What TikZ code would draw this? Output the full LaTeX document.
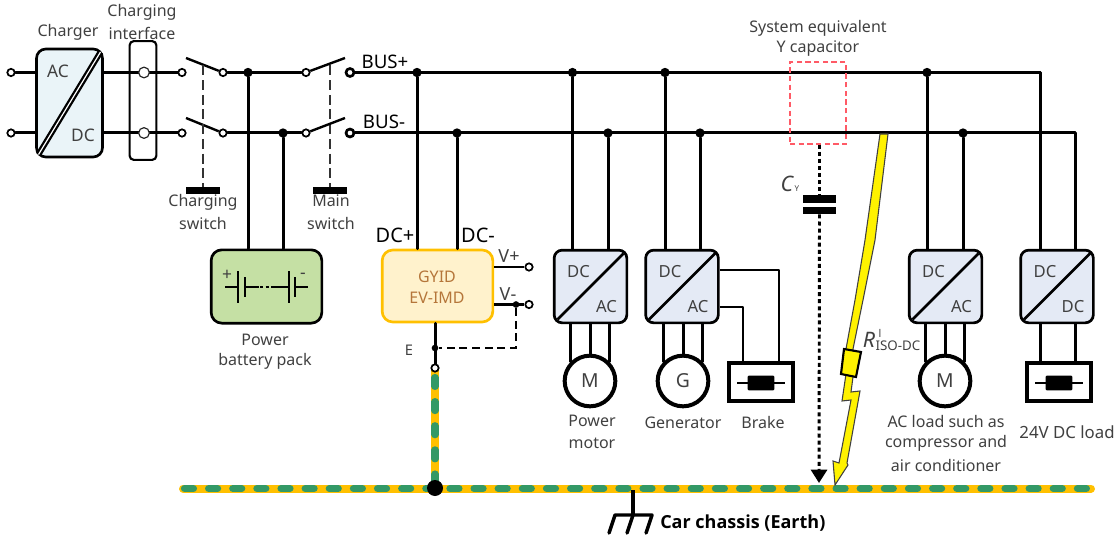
\documentclass[tikz,border=0pt]{standalone}
\usepackage{fontspec}
\setmainfont{Noto Sans}
\newfontfamily\boldish{Open Sans}
\usetikzlibrary{arrows.meta,calc}
\def\pxu{0.75pt}
\definecolor{txt}{HTML}{404040}
\definecolor{convfill}{HTML}{E4EAF5}
\definecolor{chgfill}{HTML}{EAF4F8}
\definecolor{batfill}{HTML}{C5E0A4}
\definecolor{imdfill}{HTML}{FFF2CC}
\definecolor{imdline}{HTML}{FFC000}
\definecolor{imdtxt}{HTML}{B5763A}
\definecolor{gnd}{HTML}{FFC000}
\definecolor{gndg}{HTML}{339966}
\definecolor{redb}{HTML}{FF5A66}
\tikzset{
 wire/.style={line width=2.25pt,line cap=round,line join=round},
 thinwire/.style={line width=2pt,line join=round},
 ctl/.style={line width=1.1pt,draw=black!80,dash pattern=on 7.5pt off 3.5pt},
 lbl/.style={text=txt,font=\fontsize{12}{14}\selectfont,inner sep=0pt},
 conv/.style={draw=black,fill=convfill,line width=2pt,rounded corners=6pt,minimum width=54.5pt,minimum height=54.5pt,inner sep=0pt},
 term/.style={circle,draw=black,fill=white,line width=1.3pt,inner sep=0pt,minimum size=5.5pt},
 bigterm/.style={circle,draw=black!85,fill=white,line width=0.9pt,inner sep=0pt,minimum size=8pt},
 boldterm/.style={circle,draw=black,fill=white,line width=2pt,inner sep=0pt,minimum size=6pt},
 dotj/.style={circle,fill=black,inner sep=0pt,minimum size=7pt},
 smallj/.style={circle,fill=black,inner sep=0pt,minimum size=5pt},
 bar/.style={fill=black,inner sep=0pt,minimum width=25.5pt,minimum height=5pt},
 machine/.style={circle,draw=black,fill=white,line width=3pt,inner sep=0pt,minimum size=38pt,text=txt,font=\fontsize{14.5}{16}\selectfont},
 loadbox/.style={draw=black,fill=white,line width=3pt,inner sep=0pt,minimum width=48pt,minimum height=28pt},
 fuse/.style={fill=black,rounded corners=0.8pt,inner sep=0pt,minimum width=20pt,minimum height=11pt},
 plate/.style={fill=black,inner sep=0pt,minimum width=25pt,minimum height=5.5pt},
 dotline/.style={line width=2.2pt,dash pattern=on 3pt off 2.3pt},
 conlbl/.style={lbl,font=\fontsize{12.5}{14}\selectfont},
 buslbl/.style={lbl,text=black,font=\fontsize{14}{16}\selectfont},
}
\newcommand{\convbox}[4]{%
 \node[conv] (#1) at (#2,286.5) {};
 \draw[line width=2pt] ($(#2,286.5)+(-33,33)$) -- ($(#2,286.5)+(33,-33)$);
 \node[conlbl] (#1a) at ($(#2,286.5)+(-12,-15)$) {#3};
 \node[conlbl] (#1b) at ($(#2,286.5)+(16,20.5)$) {#4};
}
\newcommand{\fusesym}[2]{%
 \draw[line width=1.8pt] ($(#2)+(-24,0)$) -- ($(#2)+(24,0)$);
 \node[fuse] (#1) at (#2) {};
}
\begin{document}
\begin{tikzpicture}[x=\pxu,y=-\pxu]
\useasboundingbox (0,0) rectangle (1118,535);
% ground bars
\draw[line width=6pt,gnd] (435,370) -- (435,488);
\draw[line width=5.4pt,gndg,line cap=round,dash pattern=on 6.7pt off 11.4pt] (435,377.5) -- (435,488);
\draw[line width=6pt,gnd,line cap=round] (183,488.5) -- (1091,488.5);
\draw[line width=5.4pt,gndg,line cap=round,dash pattern=on 6.7pt off 11.4pt] (184.5,488.5) -- (1090,488.5);
% charger
\node[draw=black,fill=chgfill,line width=2pt,rounded corners=7pt,minimum width=49.5pt,minimum height=81pt,inner sep=0pt] (chg) at (69.5,103) {};
\node[term] (tl1) at (11,72.5) {};
\node[term] (tl2) at (11,133) {};
\node[draw=black,line width=1.6pt,rounded corners=3pt,minimum width=20pt,minimum height=89pt,inner sep=0pt] (ifc) at (143,100.5) {};
\coordinate (ic1c) at (144,72.5);
\coordinate (ic2c) at (144,133);
\coordinate (s1ac) at (182,72.5);
\coordinate (s2ac) at (182,133);
\draw[wire] (tl1) -- (chg.west|-tl1);
\draw[wire] (tl2) -- (chg.west|-tl2);
\draw[wire] (chg.east|-ic1c) -- (s1ac);
\draw[wire] (chg.east|-ic2c) -- (s2ac);
\node[bigterm] (ic1) at (ic1c) {};
\node[bigterm] (ic2) at (ic2c) {};
\node[term] (s1a) at (s1ac) {};
\node[term] (s2a) at (s2ac) {};
\node[term] (s1b) at (223,72.5) {};
\node[term] (s2b) at (223,133) {};
\coordinate (s1blade) at (186,58);
\coordinate (s2blade) at (186,118);
\draw[line width=4.3pt] (38.5,154.5) -- (100.5,52);
\draw[line width=0.9pt,white] (38.5,154.5) -- (100.5,52);
\node[lbl,font=\fontsize{13}{15}\selectfont] (acl) at (58,71) {AC};
\node[lbl,font=\fontsize{13}{15}\selectfont] (dcl) at (83,135) {DC};
% switches
\draw[line width=1.8pt] (s1blade) -- (s1b);
\draw[line width=1.8pt] (s2blade) -- (s2b);
\node[bar] (barc) at (203,190.5) {};
\node[bar] (barm) at (330,190.5) {};
\coordinate (cs) at (203,65.5);
\coordinate (ms) at (330,65.5);
\draw[ctl] (cs) -- (barc.north);
\draw[ctl] (ms) -- (barm.north);
\node[term] (s3a) at (306,72.5) {};
\node[term] (s4a) at (306,133) {};
\node[boldterm] (s3b) at (350,72.5) {};
\node[boldterm] (s4b) at (350,133) {};
\coordinate (s3blade) at (345,58);
\coordinate (s4blade) at (345,118);
\draw[line width=1.8pt] (s3a) -- (s3blade);
\draw[line width=1.8pt] (s4a) -- (s4blade);
% buses
\coordinate (tend) at (1040,72.5);
\coordinate (bend) at (1075,133);
\node[dotj] (jt1) at (248,72.5) {};
\node[dotj] (jb1) at (283,133) {};
\node[dotj] (jt2) at (417,72.5) {};
\node[dotj] (jb2) at (457,133) {};
\node[dotj] (jt3) at (572.5,72.5) {};
\node[dotj] (jb3) at (608,133) {};
\node[dotj] (jt4) at (665,72.5) {};
\node[dotj] (jb4) at (700,133) {};
\node[dotj] (jt5) at (927,72.5) {};
\node[dotj] (jb5) at (963,133) {};
\draw[wire] (s1b) -- (s3a);
\draw[wire] (s2b) -- (s4a);
\draw[wire] (s3b) -- (tend);
\draw[wire] (s4b) -- (bend);
% battery
\node[draw=black,fill=batfill,line width=2pt,rounded corners=8pt,minimum width=83pt,minimum height=55pt,inner sep=0pt] (bat) at (266.5,286.5) {};
\draw[wire] (jt1) -- (jt1|-bat.north);
\draw[wire] (jb1) -- (jb1|-bat.north);
\draw[line width=1.3pt] (225,287) -- (238,287) (238,271) -- (238,303) (245,277) -- (245,297) (245,287) -- (259,287) (274,287) -- (289,287) (289,271) -- (289,303) (295,277) -- (295,297) (295,287) -- (308,287);
\draw[line width=1.3pt,dash pattern=on 2.5pt off 1.8pt] (260,287) -- (274,287);
\node[lbl,font=\fontsize{13}{15}\selectfont] (plus) at (227,275) {+};
\node[lbl,font=\fontsize{13}{15}\selectfont] (minus) at (303,276) {-};
% IMD
\node[draw=imdline,fill=imdfill,line width=2pt,rounded corners=8pt,minimum width=83pt,minimum height=54pt,inner sep=0pt] (imd) at (437.5,286) {};
\draw[wire] (jt2) -- (jt2|-imd.north);
\draw[wire] (jb2) -- (jb2|-imd.north);
\node[lbl,text=imdtxt] (imd1) at (437,277) {GYID};
\node[lbl,text=imdtxt] (imd2) at (437,298) {EV-IMD};
\node[term] (vp) at (529,267) {};
\node[term] (vm) at (529,304.5) {};
\node[smallj] (jv) at (516,304.5) {};
\draw[thinwire] (imd.east|-vp) -- (vp);
\draw[thinwire] (imd.east|-vm) -- (vm);
\node[smallj] (je) at (435,348) {};
\coordinate (etc) at (435,368);
\draw[wire] (imd.south-|je) -- (etc);
\node[term] (eterm) at (etc) {};
\draw[line width=1.1pt,dash pattern=on 6pt off 3.5pt] (jv) |- (je);
% converters
\convbox{c1}{590.5}{DC}{AC}
\convbox{c2}{682}{DC}{AC}
\convbox{c3}{945.5}{DC}{AC}
\convbox{c4}{1057}{DC}{DC}
\draw[wire] (jt3) -- (jt3|-c1.north);
\draw[wire] (jb3) -- (jb3|-c1.north);
\draw[wire] (jt4) -- (jt4|-c2.north);
\draw[wire] (jb4) -- (jb4|-c2.north);
\draw[wire] (jt5) -- (jt5|-c3.north);
\draw[wire] (jb5) -- (jb5|-c3.north);
\draw[wire] (tend) -- (tend|-c4.north);
\draw[wire] (bend) -- (bend|-c4.north);
% machines
\node[machine] (mm) at (590,381) {M};
\node[machine] (mg) at (683,381) {G};
\node[machine] (ma) at (945,381) {M};
\foreach \cc/\mn in {c1/mm,c2/mg,c3/ma}{
 \draw[wire] (\cc.south-|\mn.135) -- (\mn.135);
 \draw[wire] (\cc.south-|\mn.north) -- (\mn.north);
 \draw[wire] (\cc.south-|\mn.45) -- (\mn.45);
}
% brake
\node[loadbox] (brk) at (761,382) {};
\fusesym{bf}{761,383}
\draw[thinwire] (c2.east|-0,270) -| ($(brk.north)+(18,0)$);
\draw[thinwire] (c2.east|-0,307) -| ($(brk.north)+(-18,0)$);
% dc load
\node[loadbox] (dcb) at (1059,382) {};
\fusesym{df}{1059,383}
\draw[wire] (tend|-c4.south) -- (tend|-dcb.north);
\draw[wire] (bend|-c4.south) -- (bend|-dcb.north);
% red box
\node[draw=redb,dash pattern=on 4pt off 2.5pt,line width=0.9pt,minimum width=42pt,minimum height=61.5pt,inner sep=0pt] (ybox) at (818,103) {};
\node[plate] (p1) at (819.5,199) {};
\node[plate] (p2) at (819.5,210.5) {};
\coordinate (ctip) at (819,483);
\draw[dotline] (ybox.south-|p1) -- (p1.north);
\draw[dotline,-{Triangle[width=12pt,length=10pt,sep=0pt]}] (p2.south) -- (ctip);
% lightning
\draw[fill=yellow,draw=black!75,line width=0.8pt,line join=miter]
 (880,134) -- (888,134) -- (875,240) -- (863,300) -- (853,349) -- (853,377) -- (851,392) -- (860,391) -- (847,463) -- (848,465) -- (835,485) -- (833,461) -- (839,463) -- (851,400) -- (842,401) -- (846,374) -- (846,349) -- (855,300) -- (865,240) -- cycle;
\draw[fill=yellow,draw=black,line width=1.6pt] (844,349) -- (861,352) -- (856,377) -- (841,374) -- cycle;
% chassis
\coordinate (gtop) at (633,490);
\coordinate (gmid) at (633,515);
\draw[line width=2.6pt] (gtop) -- (gmid);
\draw[line width=2.6pt,line cap=round,line join=round] (609,533) -- (615,515) -- (652,515) -- (646,533);
\draw[line width=2.6pt,line cap=round] (gmid) -- (627,533);
\node[circle,fill=black,inner sep=0pt,minimum size=12pt] (gj) at (435,488) {};
% labels
\node[lbl] (l1) at (68,32) {Charger};
\node[lbl] (l2) at (142,12) {Charging};
\node[lbl] (l3) at (142,33) {interface};
\node[lbl] (l4) at (203,202) {Charging};
\node[lbl] (l5) at (203,223) {switch};
\node[lbl] (l6) at (331,201) {Main};
\node[lbl] (l7) at (331,223) {switch};
\node[buslbl] (l8) at (385,62) {BUS+};
\node[buslbl] (l9) at (384,122) {BUS-};
\node[lbl] (l10) at (265,340) {Power};
\node[lbl] (l11) at (265,361) {battery pack};
\node[buslbl,font=\fontsize{15}{17}\selectfont] (l12) at (395,235) {DC+};
\node[buslbl,font=\fontsize{15}{17}\selectfont] (l13) at (478,235) {DC-};
\node[lbl,font=\fontsize{13.5}{15}\selectfont] (l14) at (509,256) {V+};
\node[lbl,font=\fontsize{13.5}{15}\selectfont] (l15) at (508,294) {V-};
\node[lbl,font=\fontsize{11}{13}\selectfont] (l16) at (409,350) {E};
\node[lbl] (l17) at (592,421) {Power};
\node[lbl] (l18) at (592,443) {motor};
\node[lbl] (l19) at (683,423) {Generator};
\node[lbl] (l20) at (763,422) {Brake};
\node[lbl] (l21) at (818,28) {System equivalent};
\node[lbl] (l22) at (818,49) {Y capacitor};
\node[lbl,font=\fontsize{16}{18}\selectfont\itshape] (l23) at (787,184) {C};
\node[lbl,font=\fontsize{6}{7}\selectfont] (l24) at (797,189) {Y};
\node[lbl,font=\fontsize{16}{18}\selectfont\itshape] (l25) at (869,340) {R};
\node[lbl,font=\fontsize{8}{9}\selectfont] (l26) at (880,333) {l};
\node[lbl,font=\fontsize{10}{12}\selectfont] (l27) at (898,346) {ISO-DC};
\node[lbl] (l28) at (946,421) {AC load such as};
\node[lbl] (l29) at (946,443) {compressor and};
\node[lbl] (l30) at (946,465) {air conditioner};
\node[lbl,font=\fontsize{12.6}{14}\selectfont] (l31) at (1067,432) {24V DC load};
\node[lbl,text=black,font=\boldish\bfseries\fontsize{13.5}{15}\selectfont,anchor=west] (l32) at (660,523) {Car chassis (Earth)};
\end{tikzpicture}
\end{document}
